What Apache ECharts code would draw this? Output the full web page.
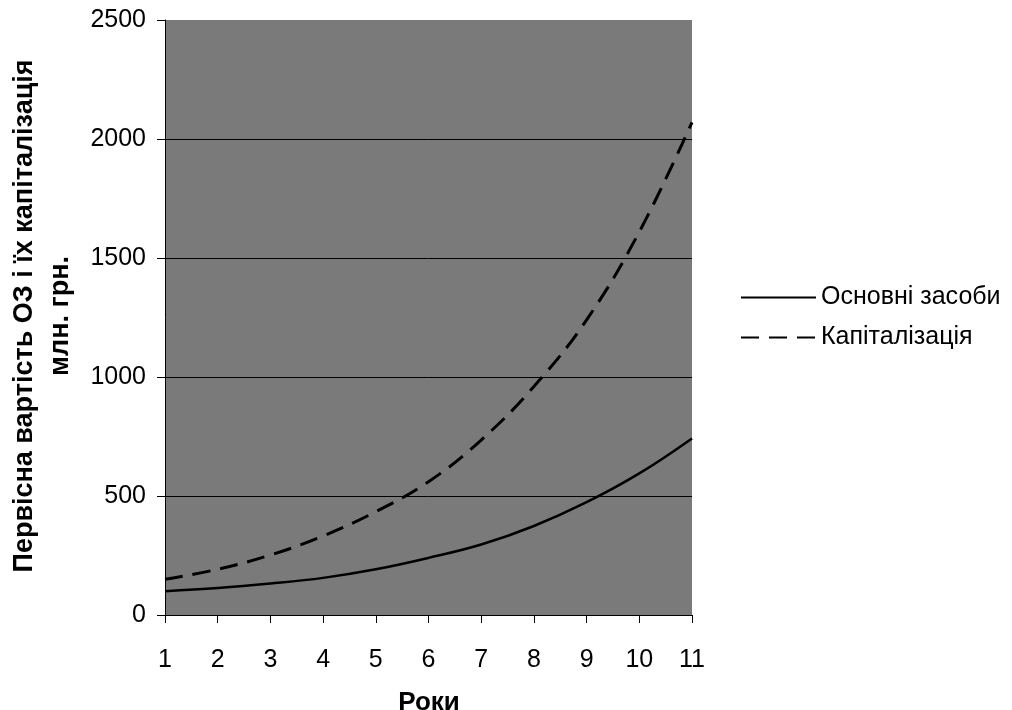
<!DOCTYPE html>
<html>
<head>
<meta charset="utf-8">
<script src="https://cdn.jsdelivr.net/npm/echarts@6/dist/echarts.min.js"></script>
<style>
html,body{margin:0;padding:0;background:#fff;}
#c{width:1012px;height:710px;}
</style>
</head>
<body>
<div id="c"></div>
<script>
const years = ['1','2','3','4','5','6','7','8','9','10','11'];
const fixedAssets = [100, 113, 132, 156, 192, 240, 296, 374, 474, 595, 742];
const capitalization = [150, 192, 252, 332, 434, 560, 735, 960, 1240, 1610, 2070];
const yTicks = [0, 500, 1000, 1500, 2000, 2500];
const seriesNames = ['Основні засоби', 'Капіталізація'];
const yTitle = 'Первісна вартість ОЗ і їх капіталізація\nмлн. грн.';
const xTitle = 'Роки';

const chart = echarts.init(document.getElementById('c'));
const font = 'Liberation Sans, Arial, sans-serif';
chart.setOption({
  backgroundColor: '#ffffff',
  animation: false,
  grid: {
    left: 165, right: 320, top: 20, bottom: 95,
    show: true, backgroundColor: '#7a7a7a', borderWidth: 0
  },
  legend: {
    orient: 'vertical',
    left: 735, top: 280,
    itemWidth: 75, itemHeight: 14, itemGap: 15,
    itemStyle: { opacity: 0, borderWidth: 0 },
    textStyle: { fontFamily: font, fontSize: 25, color: '#000' },
    data: seriesNames
  },
  xAxis: {
    type: 'category',
    data: years,
    boundaryGap: false,
    axisLine: { show: true, lineStyle: { color: '#000', width: 1 } },
    axisTick: { show: true, inside: false, length: 8, lineStyle: { color: '#000' } },
    axisLabel: { fontFamily: font, fontSize: 25, color: '#000', margin: 33 },
    splitLine: { show: false }
  },
  yAxis: {
    type: 'value',
    min: yTicks[0], max: yTicks[yTicks.length - 1], interval: 500,
    axisLine: { show: true, lineStyle: { color: '#000', width: 1 } },
    axisTick: { show: true, length: 8, lineStyle: { color: '#000' } },
    axisLabel: { fontFamily: font, fontSize: 25, color: '#000', margin: 19,
                 formatter: function (v) { return String(v); } },
    splitLine: { show: true, lineStyle: { color: ['#000','#000','#000','#000','#000','#7a7a7a'], width: 1 } }
  },
  graphic: [
    {
      type: 'text', x: 43, y: 316, rotation: Math.PI / 2,
      style: { text: yTitle, fontFamily: font, fontSize: 27, fontWeight: 'bold', fill: '#000',
               align: 'center', verticalAlign: 'middle', lineHeight: 36 }
    },
    {
      type: 'text', x: 429, y: 703,
      style: { text: xTitle, fontFamily: font, fontSize: 26, fontWeight: 'bold', fill: '#000',
               align: 'center', verticalAlign: 'middle' }
    }
  ],
  series: [
    {
      name: seriesNames[0], type: 'line', data: fixedAssets, smooth: 0.4,
      symbol: 'none', lineStyle: { color: '#000', width: 2.5, type: 'solid' },
      itemStyle: { color: '#000' }
    },
    {
      name: seriesNames[1], type: 'line', data: capitalization, smooth: 0.4,
      symbol: 'none', lineStyle: { color: '#000', width: 3, type: [18, 10] },
      itemStyle: { color: '#000' }
    }
  ]
});
</script>
</body>
</html>
